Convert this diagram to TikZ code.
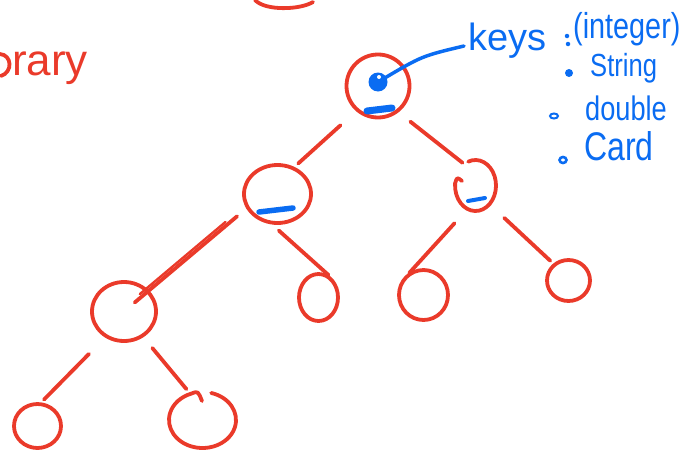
\documentclass[tikz,border=0pt]{standalone}
\usepackage{fontspec}
\setmainfont{Liberation Sans}
\newfontfamily\narrowhand[FakeStretch=0.8]{Liberation Sans}
\usetikzlibrary{shapes.geometric}
\definecolor{inkred}{RGB}{234,58,42}
\definecolor{inkblue}{RGB}{10,108,242}
\begin{document}
\begin{tikzpicture}[x=1pt,y=-1pt,
  nd/.style={ellipse, inner sep=0pt, draw=inkred, line width=3.8pt},
  ndh/.style={ellipse, inner sep=0pt},
  edge/.style={draw=inkred, line width=3.8pt, line cap=round},
  ink/.style={draw=inkred, line width=3.8pt, line cap=round, line join=round},
  bink/.style={draw=inkblue, line cap=round},
  btxt/.style={text=inkblue, inner sep=0pt, anchor=base west},
  bdot/.style={circle, fill=inkblue, inner sep=0pt},
  bring/.style={ellipse, draw=inkblue, inner sep=0pt},
]
\useasboundingbox (0,0) rectangle (692,455);

% partial strokes at the top and left margin
\draw[ink] (255,0) .. controls (265,11) and (300,10) .. (313,2);
\draw[ink] (0,54) .. controls (12,55) and (13,72) .. (1,76);
\node[anchor=base west, text=inkred, inner sep=0pt,
      font=\fontsize{44}{44}\selectfont] (rary) at (12,75) {rary};

% tree nodes
\node[nd, minimum width=63pt, minimum height=63pt] (root) at (378,86) {};
\node[nd, minimum width=67pt, minimum height=58pt] (L) at (277.5,194) {};
\node[ndh, minimum width=41pt, minimum height=51pt] (R) at (475.5,185.5) {};
\node[nd, minimum width=64pt, minimum height=59pt] (LL) at (124,311.5) {};
\node[nd, minimum width=39pt, minimum height=47pt] (LR) at (318.5,297.5) {};
\node[nd, minimum width=49pt, minimum height=50pt] (RL) at (423.5,295) {};
\node[nd, minimum width=43pt, minimum height=41pt] (RR) at (568.5,280.5) {};
\node[nd, minimum width=47pt, minimum height=44pt] (LLL) at (37.5,426) {};
\node[ndh, minimum width=67pt, minimum height=56pt] (LLR) at (202.5,420) {};

% open hand-drawn circles
\draw[ink] ([shift={(249:20.5 and 25.5)}]R.center)
  arc[start angle=249, end angle=545, x radius=20.5, y radius=25.5]
  .. controls (457,177) .. (462,181);
\draw[ink] ([shift={(285:33.5 and 28)}]LLR.center)
  arc[start angle=285, end angle=611, x radius=33.5, y radius=28]
  .. controls (198,391) .. (202,401);

% connectors
\draw[edge, shorten <=21pt, shorten >=5pt] (root.-131) -- (L.58);
\draw[edge, shorten <=15pt, shorten >=2pt] (root.-52) -- (R.118);
\draw[edge, shorten <=12pt, shorten >=14pt] (L.-155) -- (LL.center);
\draw[edge, line width=2.4pt, shorten <=24pt, shorten >=24pt,
      transform canvas={xshift=-2.5pt, yshift=2pt}] (L.-155) -- (LL.center);
\draw[edge, shorten <=9pt] (L.-100) -- (LR.66);
\draw[edge, shorten <=19pt, shorten >=-2pt] (R.-109) -- (RL.119);
\draw[edge, shorten <=20pt, shorten >=4pt] (R.-53) -- (RR.132);
\draw[edge, shorten <=23pt, shorten >=4pt] (LL.-126) -- (LLL.81);
\draw[edge, shorten <=14pt, shorten >=6pt] (LL.-53) -- (LLR.115);

% blue marks inside nodes
\node[bdot, minimum size=19pt] (blob) at (378,82) {};
\fill[white] (379,77) circle[radius=2];
\draw[bink, line width=7pt] (367,111) -- (392,108);
\draw[bink, line width=5.5pt] (259,212) -- (293,208);
\draw[bink, line width=4pt] (468,201) -- (485,198);

% annotation text
\node[btxt, font=\fontsize{38}{38}\selectfont] (keys) at (468,50) {keys};
\node[bdot, minimum size=4.5pt] (c1) at (567,36) {};
\node[bdot, minimum size=4.5pt] (c2) at (568,44) {};
\node[btxt, font=\narrowhand\fontsize{36}{36}\selectfont] (integer) at (573,38) {(integer)};
\node[bdot, minimum size=8pt] (b1) at (569,73) {};
\node[btxt, font=\narrowhand\fontsize{32}{32}\selectfont] (string) at (590,76) {String};
\node[bring, line width=2pt, minimum width=8pt, minimum height=5pt] (b2) at (554,116) {};
\node[btxt, font=\narrowhand\fontsize{34}{34}\selectfont] (double) at (585,120) {double};
\node[bring, line width=2.6pt, minimum width=7pt, minimum height=6pt] (b3) at (563,160) {};
\node[btxt, font=\narrowhand\fontsize{40}{40}\selectfont] (card) at (584,160) {Card};

% pointer from root key to label
\draw[bink, line width=3.5pt, shorten <=6pt]
  (blob.center) .. controls (422,56) .. ([xshift=-4pt,yshift=4pt]keys.base west);
\end{tikzpicture}
\end{document}
